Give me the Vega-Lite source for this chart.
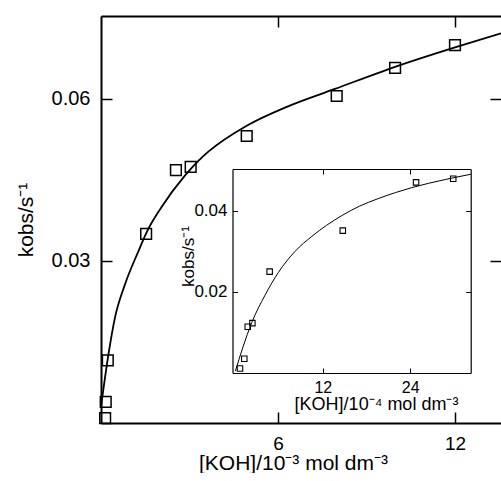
{
  "$schema": "https://vega.github.io/schema/vega-lite/v6.json",
  "padding": {"left": 15, "top": 15, "right": 0, "bottom": 0},
  "background": "white",
  "width": 400,
  "height": 407,
  "view": {"stroke": null},
  "datasets": {
    "mainPts": [
      {"x": 0.14, "k": 0.0009}, {"x": 0.16, "k": 0.0039}, {"x": 0.23, "k": 0.0116},
      {"x": 1.53, "k": 0.0350}, {"x": 2.54, "k": 0.0468}, {"x": 3.04, "k": 0.0474},
      {"x": 4.94, "k": 0.0531}, {"x": 7.99, "k": 0.0605}, {"x": 9.97, "k": 0.0657},
      {"x": 12.0, "k": 0.0699}
    ],
    "mainFit": [
      {"x": 0.0, "k": 0.0030}, {"x": 0.25, "k": 0.0126},
      {"x": 0.47, "k": 0.0194}, {"x": 0.81, "k": 0.0256}, {"x": 1.27, "k": 0.0318},
      {"x": 1.53, "k": 0.0351}, {"x": 2.06, "k": 0.0400}, {"x": 2.85, "k": 0.0458},
      {"x": 3.3, "k": 0.0485}, {"x": 3.64, "k": 0.0502}, {"x": 4.94, "k": 0.0550},
      {"x": 6.3, "k": 0.0585}, {"x": 7.93, "k": 0.0618}, {"x": 9.97, "k": 0.0659},
      {"x": 12.0, "k": 0.0695}, {"x": 13.56, "k": 0.0721}
    ],
    "insetPts": [
      {"x": 0.63, "k": 0.0011}, {"x": 1.22, "k": 0.0035}, {"x": 1.69, "k": 0.0114},
      {"x": 2.33, "k": 0.0123}, {"x": 4.7, "k": 0.0250}, {"x": 14.74, "k": 0.0351},
      {"x": 24.8, "k": 0.0470}, {"x": 29.9, "k": 0.0479}
    ],
    "insetFit": [
      {"x": 0.0, "k": 0.0005}, {"x": 1.0, "k": 0.0062}, {"x": 2.24, "k": 0.0124},
      {"x": 4.07, "k": 0.0192}, {"x": 5.9, "k": 0.0248}, {"x": 8.19, "k": 0.0300},
      {"x": 10.5, "k": 0.0337}, {"x": 12.5, "k": 0.0364}, {"x": 14.6, "k": 0.0388},
      {"x": 17.0, "k": 0.0411}, {"x": 19.6, "k": 0.0430}, {"x": 22.0, "k": 0.0445},
      {"x": 24.2, "k": 0.0457}, {"x": 28.8, "k": 0.0477}, {"x": 32.3, "k": 0.0490}
    ]
  },
  "layer": [
    {
      "data": {"name": "mainPts"},
      "mark": {"type": "square", "filled": false, "size": 115, "strokeWidth": 1.5, "color": "black", "opacity": 1},
      "encoding": {
        "x": {"field": "x", "type": "quantitative",
          "scale": {"domain": [0, 13.56], "nice": false, "zero": false},
          "axis": {"orient": "bottom", "values": [6, 12], "tickSize": -11, "tickWidth": 1.5, "tickColor": "black",
            "domain": true, "domainColor": "black", "domainWidth": 2, "grid": false,
            "labelPadding": 22, "labelFontSize": 19, "labelColor": "black",
            "title": "[KOH]/10⁻³ mol dm⁻³", "titleFontSize": 21, "titleFontWeight": "normal", "titleColor": "black",
            "titleBaseline": "alphabetic", "titleY": 46, "titleX": 192}},
        "y": {"field": "k", "type": "quantitative",
          "scale": {"domain": [0, 0.0753], "nice": false, "zero": false},
          "axis": {"orient": "left", "values": [0.03, 0.06], "format": ".2f", "tickSize": -11, "tickWidth": 1.5, "tickColor": "black",
            "domain": true, "domainColor": "black", "domainWidth": 2, "grid": false,
            "labelPadding": 22, "labelFontSize": 20, "labelColor": "black",
            "title": "kobs/s⁻¹", "titleFontSize": 21, "titleFontWeight": "normal", "titleColor": "black", "titlePadding": 15}}
      }
    },
    {
      "data": {"name": "mainFit"},
      "mark": {"type": "line", "color": "black", "strokeWidth": 1.8, "interpolate": "monotone"},
      "encoding": {
        "x": {"field": "x", "type": "quantitative",
          "scale": {"domain": [0, 13.56], "nice": false, "zero": false},
          "axis": {"orient": "top", "values": [6, 12], "tickSize": -11, "tickWidth": 1.5, "tickColor": "black",
            "domain": true, "domainColor": "black", "domainWidth": 2, "grid": false, "labels": false, "title": null}},
        "y": {"field": "k", "type": "quantitative",
          "scale": {"domain": [0, 0.0753], "nice": false, "zero": false},
          "axis": {"orient": "right", "values": [0.03, 0.06], "tickSize": -11, "tickWidth": 1.5, "tickColor": "black",
            "domain": false, "grid": false, "labels": false, "title": null}}
      }
    },
    {
      "data": {"name": "insetPts"},
      "mark": {"type": "square", "filled": false, "size": 30, "strokeWidth": 1.1, "color": "black", "opacity": 1},
      "encoding": {
        "x": {"field": "x", "type": "quantitative",
          "scale": {"domain": [-0.4, 32.3], "nice": false, "zero": false, "range": [131.5, 369.7]},
          "axis": {"orient": "bottom", "offset": -50, "values": [12, 24], "tickSize": -5, "tickWidth": 1, "tickColor": "black",
            "domain": true, "domainColor": "black", "domainWidth": 1.2, "grid": false,
            "labelPadding": 11.5, "labelFontSize": 16, "labelColor": "black",
            "title": "[KOH]/10⁻⁴ mol dm⁻³", "titleFontSize": 18, "titleFontWeight": "normal", "titleColor": "black",
            "titleBaseline": "alphabetic", "titleY": 36, "titleX": 275}},
        "y": {"field": "k", "type": "quantitative",
          "scale": {"domain": [0, 0.0503], "nice": false, "zero": false, "range": [357, 153]},
          "axis": {"orient": "left", "offset": -131.5, "values": [0.02, 0.04], "format": ".2f", "tickSize": -5, "tickWidth": 1, "tickColor": "black",
            "domain": true, "domainColor": "black", "domainWidth": 1.2, "grid": false,
            "labelPadding": 10.5, "labelFontSize": 17, "labelColor": "black",
            "title": "kobs/s⁻¹", "titleFontSize": 17, "titleFontWeight": "normal", "titleColor": "black",
            "titleX": -44, "titleY": 240, "titleBaseline": "middle"}}
      }
    },
    {
      "data": {"name": "insetFit"},
      "mark": {"type": "line", "color": "black", "strokeWidth": 1, "interpolate": "monotone"},
      "encoding": {
        "x": {"field": "x", "type": "quantitative",
          "scale": {"domain": [-0.4, 32.3], "nice": false, "zero": false, "range": [131.5, 369.7]},
          "axis": {"orient": "top", "offset": -153, "values": [12, 24], "tickSize": -5, "tickWidth": 1, "tickColor": "black",
            "domain": true, "domainColor": "black", "domainWidth": 1.2, "grid": false, "labels": false, "title": null}},
        "y": {"field": "k", "type": "quantitative",
          "scale": {"domain": [0, 0.0503], "nice": false, "zero": false, "range": [357, 153]},
          "axis": {"orient": "right", "offset": -30.3, "values": [0.02, 0.04], "tickSize": -5, "tickWidth": 1, "tickColor": "black",
            "domain": true, "domainColor": "black", "domainWidth": 1.2, "grid": false, "labels": false, "title": null}}
      }
    }
  ],
  "resolve": {
    "scale": {"x": "independent", "y": "independent"},
    "axis": {"x": "independent", "y": "independent"}
  },
  "config": {
    "font": "Liberation Sans"
  }
}
